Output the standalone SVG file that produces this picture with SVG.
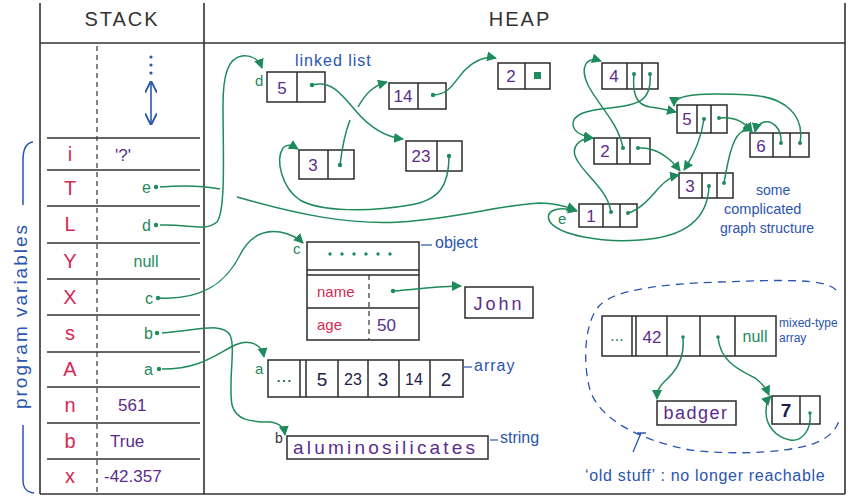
<svg xmlns="http://www.w3.org/2000/svg" width="848" height="499" viewBox="0 0 848 499">
<defs>
<marker id="ah" viewBox="0 0 10 10" refX="9" refY="5" markerWidth="10" markerHeight="10" orient="auto" markerUnits="userSpaceOnUse">
<path d="M0,0 L10,5 L0,10 z" fill="#1f8a5c"/>
</marker>
<marker id="bh" viewBox="0 0 10 10" refX="9" refY="5" markerWidth="12" markerHeight="12" orient="auto-start-reverse" markerUnits="userSpaceOnUse">
<path d="M0,0 L10,5 L0,10" fill="none" stroke="#2a55b0" stroke-width="1.6"/>
</marker>
</defs>
<style>
.frame{fill:none;stroke:#333;stroke-width:1.6}
.row{fill:none;stroke:#333;stroke-width:1.4}
.box{fill:none;stroke:#2b2b2b;stroke-width:1.5}
.dash{fill:none;stroke:#333;stroke-width:1.2;stroke-dasharray:5 4}
.conn{fill:none;stroke:#1f8a5c;stroke-width:1.5;marker-end:url(#ah)}
.line{fill:none;stroke:#1f8a5c;stroke-width:1.5}
.dot{fill:#1f8a5c}
text{font-family:"Liberation Sans","DejaVu Sans",sans-serif}
.hdr{font-size:20px;fill:#333;letter-spacing:2px;text-anchor:middle}
.nm{font-size:20px;fill:#d42a52;text-anchor:middle}
.val{font-size:17px;fill:#5a2d8c}
.gv{font-size:16px;fill:#1f8a5c}
.num{font-size:17px;fill:#5a2d8c;text-anchor:middle}
.arr{font-size:19px;fill:#20204a;text-anchor:middle}
.lbl{font-size:16px;fill:#2a55b0}
.glbl{font-size:15px;fill:#1f8a5c}
.red{font-size:15px;fill:#d42a52}
</style>

<g id="frame">
<path class="frame" d="M40,3 V494 M204,3 V494 M845,3 V494 M40,43 H845 M40,494 H845"/>
<text class="hdr" x="122" y="26">STACK</text>
<text class="hdr" x="520" y="26">HEAP</text>
</g>

<g id="stack">
<line class="dash" x1="97" y1="46" x2="97" y2="492"/>
<path class="row" d="M47,138 H200 M47,170 H200 M47,206 H200 M47,243 H200 M47,279 H200 M47,315 H200 M47,352 H200 M47,387 H200 M47,423 H200 M47,459 H200"/>
<g fill="#2a55b0"><circle cx="151" cy="57" r="1.6"/><circle cx="151" cy="65" r="1.6"/><circle cx="151" cy="73" r="1.6"/></g>
<line x1="151" y1="82" x2="151" y2="124" stroke="#2a55b0" stroke-width="1.6" marker-start="url(#bh)" marker-end="url(#bh)"/>
<text class="nm" x="70" y="161">i</text><text class="val" x="115" y="161">'?'</text>
<text class="nm" x="70" y="195">T</text><text class="gv" x="142" y="193">e</text><circle class="dot" cx="156" cy="187" r="2.2"/>
<text class="nm" x="70" y="231">L</text><text class="gv" x="142" y="231">d</text><circle class="dot" cx="156" cy="225" r="2.2"/>
<text class="nm" x="70" y="268">Y</text><text class="gv" x="146" y="267" text-anchor="middle">null</text>
<text class="nm" x="70" y="304">X</text><text class="gv" x="145" y="304">c</text><circle class="dot" cx="158" cy="298" r="2.2"/>
<text class="nm" x="70" y="340">s</text><text class="gv" x="144" y="339">b</text><circle class="dot" cx="157" cy="333" r="2.2"/>
<text class="nm" x="70" y="376">A</text><text class="gv" x="144" y="375">a</text><circle class="dot" cx="159" cy="369" r="2.2"/>
<text class="nm" x="70" y="412">n</text><text class="val" x="118" y="411">561</text>
<text class="nm" x="70" y="448">b</text><text class="val" x="110" y="447">True</text>
<text class="nm" x="70" y="483">x</text><text class="val" x="104" y="482">-42.357</text>
</g>

<g id="program-variables">
<path d="M33,142 C25,143 23,150 23,160 V205 M23,425 V480 C23,488 26,492 34,493" fill="none" stroke="#2a55b0" stroke-width="1.5"/>
<text transform="translate(27,316) rotate(-90)" text-anchor="middle" font-size="19" fill="#2a55b0" letter-spacing="2">program variables</text>
</g>

<g id="ll-5"><rect class="box" x="267" y="72" width="58" height="30"/><line class="box" x1="297" y1="72" x2="297" y2="102"/><text class="num" x="282" y="94">5</text><circle class="dot" cx="312" cy="85" r="2.2"/></g>
<g id="ll-14"><rect class="box" x="389" y="83" width="57" height="26"/><line class="box" x1="418" y1="83" x2="418" y2="109"/><text class="num" x="403" y="102">14</text><circle class="dot" cx="433" cy="95" r="2.2"/></g>
<g id="ll-2"><rect class="box" x="498" y="63" width="52" height="26"/><line class="box" x1="525" y1="63" x2="525" y2="89"/><text class="num" x="511" y="82">2</text><rect x="534" y="72" width="7" height="7" fill="#1f8a5c"/></g>
<g id="ll-3"><rect class="box" x="299" y="150" width="55" height="29"/><line class="box" x1="328" y1="150" x2="328" y2="179"/><text class="num" x="313" y="171">3</text><circle class="dot" cx="340" cy="165" r="2.2"/></g>
<g id="ll-23"><rect class="box" x="406" y="141" width="56" height="30"/><line class="box" x1="437" y1="141" x2="437" y2="171"/><text class="num" x="421" y="162">23</text><circle class="dot" cx="449" cy="156" r="2.2"/></g>
<g id="ll-labels"><text class="glbl" x="255" y="86">d</text><text class="lbl" x="295" y="66" letter-spacing="1">linked list</text></g>

<g id="g-4"><rect class="box" x="602" y="63" width="56" height="26"/><path class="box" d="M627,63 V89 M642,63 V89"/><text class="num" x="614" y="82">4</text><circle class="dot" cx="634" cy="74" r="2"/><circle class="dot" cx="650" cy="74" r="2"/></g>
<g id="g-5"><rect class="box" x="677" y="105" width="50" height="28"/><path class="box" d="M697,105 V133 M711,105 V133"/><text class="num" x="687" y="125">5</text><circle class="dot" cx="704" cy="119" r="2"/><circle class="dot" cx="719" cy="118" r="2"/></g>
<g id="g-6"><rect class="box" x="750" y="133" width="59" height="24"/><path class="box" d="M773,133 V157 M790,133 V157"/><text class="num" x="761" y="152">6</text><circle class="dot" cx="781" cy="143" r="2"/><circle class="dot" cx="800" cy="143" r="2"/></g>
<g id="g-2"><rect class="box" x="594" y="138" width="56" height="26"/><path class="box" d="M617,138 V164 M630,138 V164"/><text class="num" x="605" y="157">2</text><circle class="dot" cx="623" cy="148" r="2"/><circle class="dot" cx="638" cy="148" r="2"/></g>
<g id="g-3"><rect class="box" x="679" y="173" width="54" height="25"/><path class="box" d="M702,173 V198 M717,173 V198"/><text class="num" x="690" y="192">3</text><circle class="dot" cx="709" cy="186" r="2"/><circle class="dot" cx="724" cy="183" r="2"/></g>
<g id="g-1"><rect class="box" x="579" y="204" width="58" height="23"/><path class="box" d="M603,204 V227 M620,204 V227"/><text class="num" x="591" y="222">1</text><circle class="dot" cx="611" cy="212" r="2"/><circle class="dot" cx="628" cy="213" r="2"/></g>
<g id="g-labels"><text class="glbl" x="558" y="224">e</text>
<text class="lbl" x="756" y="195" style="font-size:14px">some</text><text class="lbl" x="724" y="214" style="font-size:14.5px">complicated</text><text class="lbl" x="720" y="233" style="font-size:14px">graph structure</text></g>

<g id="object"><rect class="box" x="307" y="242" width="112" height="98"/><path class="box" d="M307,270 H419 M307,275 H419 M307,308 H419"/><line class="dash" x1="369" y1="275" x2="369" y2="340"/>
<g class="dot"><circle cx="330" cy="254" r="1.7"/><circle cx="342" cy="254" r="1.7"/><circle cx="354" cy="254" r="1.7"/><circle cx="366" cy="254" r="1.7"/><circle cx="378" cy="254" r="1.7"/><circle cx="390" cy="254" r="1.7"/></g>
<text class="red" x="317" y="297">name</text><text class="red" x="317" y="330">age</text><text class="val" x="377" y="331">50</text><circle class="dot" cx="393" cy="291" r="2.2"/>
<text class="glbl" x="293" y="254">c</text><path d="M421,245 H432" stroke="#2a55b0" stroke-width="1.2"/><text class="lbl" x="435" y="248">object</text></g>
<g id="john"><rect class="box" x="465" y="287" width="68" height="31"/><text class="val" x="499" y="310" text-anchor="middle" style="font-size:18px" letter-spacing="3">John</text></g>

<g id="array"><rect class="box" x="268" y="360" width="195" height="37"/><path class="box" d="M300,360 V397 M306,360 V397 M338,360 V397 M368,360 V397 M399,360 V397 M430,360 V397"/>
<text class="arr" x="284" y="382" style="fill:#1f6a4c">...</text><text class="arr" x="322" y="386">5</text><text class="arr" x="353" y="385" style="font-size:16px">23</text><text class="arr" x="383" y="386">3</text><text class="arr" x="414" y="385" style="font-size:16px">14</text><text class="arr" x="446" y="386">2</text>
<text class="glbl" x="255" y="374">a</text><path d="M464,367 H472" stroke="#2a55b0" stroke-width="1.2"/><text class="lbl" x="474" y="371" letter-spacing="1">array</text></g>

<g id="string"><rect class="box" x="287" y="436" width="201" height="23"/><text class="val" x="293" y="454" style="font-size:19px" letter-spacing="3.2">aluminosilicates</text>
<text x="275" y="443" font-size="14" fill="#333">b</text><path d="M490,440 H498" stroke="#2a55b0" stroke-width="1.2"/><text class="lbl" x="500" y="443">string</text></g>

<g id="mixed-array"><rect class="box" x="602" y="316" width="174" height="40"/><path class="box" d="M632,316 V356 M636,316 V356 M667,316 V356 M700,316 V356 M735,316 V356"/>
<text class="gv" x="617" y="341" text-anchor="middle">...</text><text class="num" x="652" y="343">42</text><circle class="dot" cx="683" cy="337" r="1.8"/><circle class="dot" cx="718" cy="337" r="1.8"/><text class="gv" x="755" y="342" text-anchor="middle">null</text>
<text class="lbl" x="779" y="327" style="font-size:12px">mixed-type</text><text class="lbl" x="779" y="342" style="font-size:12px">array</text></g>
<g id="badger"><rect class="box" x="657" y="401" width="79" height="24"/><text class="val" x="696" y="419" text-anchor="middle" style="font-size:18px" letter-spacing="1.5">badger</text></g>
<g id="seven"><rect class="box" x="772" y="396" width="48" height="28"/><line class="box" x1="800" y1="396" x2="800" y2="424"/><text class="arr" x="786" y="417" font-weight="bold">7</text><circle class="dot" cx="810" cy="413" r="1.8"/></g>

<g id="old-stuff">
<path d="M836,290 C825,278 780,280 720,282 C660,284 615,290 600,305 C585,320 582,360 590,390 C600,420 640,440 690,450 C740,456 800,452 822,440 C832,434 837,428 839,420" fill="none" stroke="#2a55b0" stroke-width="1.3" stroke-dasharray="8 6"/>
<path d="M637,433 H646 M641,433 L633,452" fill="none" stroke="#2a55b0" stroke-width="1.3"/>
<text class="lbl" x="585" y="481" letter-spacing="0.7">‘old stuff’ : no longer reachable</text>
</g>

<g id="connectors">
<path class="conn" d="M160,225 C190,224 205,232 217,222 C226,210 223,150 223,105 C223,75 228,58 242,56 C252,55 259,60 262,68"/>
<path class="conn" d="M312,85 C330,80 340,92 355,110 C370,128 385,137 403,139"/>
<path class="line" d="M340,165 C342,148 345,133 350,120"/>
<path class="conn" d="M358,107 C366,93 373,86 387,82"/>
<path class="conn" d="M433,95 C450,95 455,80 465,70 C475,60 485,56 496,58"/>
<path class="conn" d="M449,156 C449,185 440,200 410,205 C370,212 320,212 300,200 C282,188 275,160 283,148 C288,143 293,146 298,149"/>
<path class="line" d="M160,187 C185,185 205,186 220,189"/>
<path class="conn" d="M237,197 C300,215 350,225 400,222 C460,218 500,205 540,203 C555,203 565,206 576,210"/>
<path class="conn" d="M160,298 C200,300 225,285 240,255 C250,235 265,230 280,232 C290,234 298,238 303,243"/>
<path class="conn" d="M162,333 C200,330 222,322 230,335 C236,348 228,380 232,405 C236,420 250,422 270,422 C280,423 284,428 285,435"/>
<path class="conn" d="M162,369 C200,369 215,355 235,345 C250,338 262,345 264,357"/>
<path class="conn" d="M393,291 C420,289 440,286 461,286"/>
<path class="conn" d="M623,148 C618,122 598,105 588,85 C580,68 585,56 601,61"/>
<path class="conn" d="M634,74 C632,95 637,105 650,107 C660,108 668,110 676,112"/>
<path class="conn" d="M650,74 C652,100 640,105 610,108 C585,110 572,115 573,125 C574,132 582,136 593,138"/>
<path class="conn" d="M611,212 C608,190 585,175 577,160 C570,148 578,138 593,138"/>
<path class="conn" d="M628,213 C645,208 655,190 665,182 C670,178 674,176 679,175"/>
<path class="conn" d="M638,148 C655,147 668,155 680,171"/>
<path class="conn" d="M704,119 C701,140 694,155 684,170"/>
<path class="conn" d="M719,118 C735,116 745,122 752,132"/>
<path class="conn" d="M781,143 C782,128 772,120 764,122 C759,124 756,127 755,132"/>
<path class="conn" d="M800,143 C805,115 785,97 750,95 C715,93 690,94 680,98 C676,100 674,103 674,106"/>
<path class="conn" d="M724,183 C728,160 732,140 740,133 C744,130 748,129 752,131"/>
<path class="conn" d="M709,186 C708,215 690,237 640,240 C600,243 560,235 550,222 C544,212 555,205 577,211"/>
<path class="conn" d="M683,337 C685,360 675,372 664,382 C659,387 657,391 657,399"/>
<path class="conn" d="M718,337 C720,362 740,370 755,378 C762,383 766,388 769,395"/>
<path class="conn" d="M810,413 C812,432 800,442 790,440 C775,437 766,425 766,412 C766,405 767,400 771,396"/>
</g>
</svg>
